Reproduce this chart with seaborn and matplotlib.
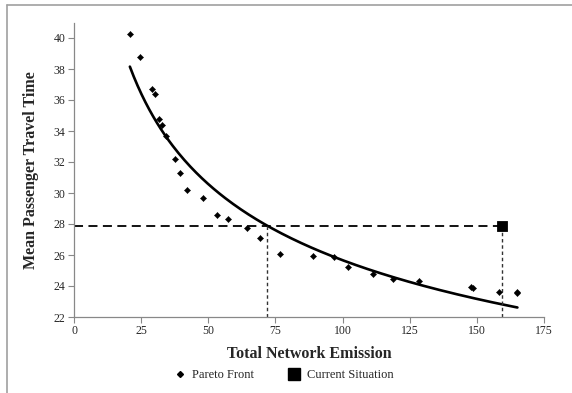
import numpy as np
import pandas as pd
import matplotlib
matplotlib.use("Agg")
import matplotlib.pyplot as plt
import seaborn as sns
from matplotlib.lines import Line2D

# --- data ---
pareto_emission = [20.8, 24.6, 29.0, 30.2, 31.6, 32.8, 34.3, 37.6, 39.5, 42.1,
                   48.0, 53.2, 57.3, 64.4, 69.2, 76.7, 89.0, 96.8, 102.0, 111.3,
                   118.8, 128.4, 147.8, 148.5, 158.2, 164.9, 165.1]
pareto_time = [40.26, 38.8, 36.7, 36.4, 34.8, 34.4, 33.7, 32.2, 31.3, 30.2,
               29.7, 28.6, 28.3, 27.75, 27.1, 26.05, 25.95, 25.85, 25.2, 24.8,
               24.45, 24.3, 23.95, 23.9, 23.6, 23.6, 23.55]
current_emission = [159.3]
current_time = [27.85]
pareto_at_current_time = [72.0]  # emission where trend reaches current time
x_ticks = [0, 25, 50, 75, 100, 125, 150, 175]
y_ticks = [22, 24, 26, 28, 30, 32, 34, 36, 38, 40]

sns.set_theme(style="white")
plt.rcParams['font.family'] = ['Liberation Serif', 'DejaVu Serif']

fig = plt.figure(figsize=(5.72, 3.93), dpi=100)
ax = fig.add_axes([74/572, 1-317/393, (544-74)/572, (317-22.5)/393])

df = pd.DataFrame({"x": pareto_emission, "y": pareto_time})

# power-law trendline (least squares in log-log space, like a spreadsheet power trend)
b, lna = np.polyfit(np.log(df["x"]), np.log(df["y"]), 1)
xs = np.linspace(min(pareto_emission), max(pareto_emission), 200)
trend = pd.DataFrame({"x": xs, "y": np.exp(lna) * xs ** b})
sns.lineplot(data=trend, x="x", y="y", color="black", lw=1.9, ax=ax)

# dashed reference lines
ct = current_time[0]
ax.plot([0, current_emission[0]], [ct, ct], color="black", lw=1.3, ls=(0, (5, 3)))
ax.plot([pareto_at_current_time[0]] * 2, [22, ct], color="#333333", lw=1.0, ls=(0, (2.5, 2)))
ax.plot([current_emission[0]] * 2, [22, ct], color="#333333", lw=1.0, ls=(0, (2.5, 2)))

sns.scatterplot(data=df, x="x", y="y", marker="D", s=10, color="black",
                edgecolor="black", linewidth=0.3, ax=ax, zorder=5)
sns.scatterplot(x=current_emission, y=current_time, marker="s", s=55,
                color="black", edgecolor="black", ax=ax, zorder=6)

ax.set_xlim(0, 175)
ax.set_ylim(22, 41)
ax.set_xticks(x_ticks)
ax.set_yticks(y_ticks)
ax.tick_params(axis="both", labelsize=8.5, length=4, width=0.8, color="#888888",
               direction="out", bottom=True, left=True, pad=2)
for s in ["top", "right"]:
    ax.spines[s].set_visible(False)
for s in ["left", "bottom"]:
    ax.spines[s].set_color("#888888")
    ax.spines[s].set_linewidth(0.9)

ax.set_xlabel("Total Network Emission", fontsize=11.5, fontweight="bold", labelpad=6)
ax.set_ylabel("Mean Passenger Travel Time", fontsize=11.5, fontweight="bold", labelpad=11)

handles = [Line2D([], [], marker="D", ls="none", color="black", markersize=3),
           Line2D([], [], marker="s", ls="none", color="black", markersize=8)]
fig.legend(handles, ["Pareto Front", "Current Situation"], loc="center",
           bbox_to_anchor=(283/572, 1-375/393), ncol=2, frameon=False,
           fontsize=9, handletextpad=0.4, columnspacing=2.6, handlelength=1.2)

# partial outer frame (only top and left edges visible in reference)
fig.add_artist(Line2D([7/572, 1.0], [1-5/393, 1-5/393], transform=fig.transFigure,
                      color="#a0a0a0", lw=1.2))
fig.add_artist(Line2D([7/572, 7/572], [0, 1-5/393], transform=fig.transFigure,
                      color="#a0a0a0", lw=1.2))

fig.savefig("out.png", dpi=100, facecolor="white")
